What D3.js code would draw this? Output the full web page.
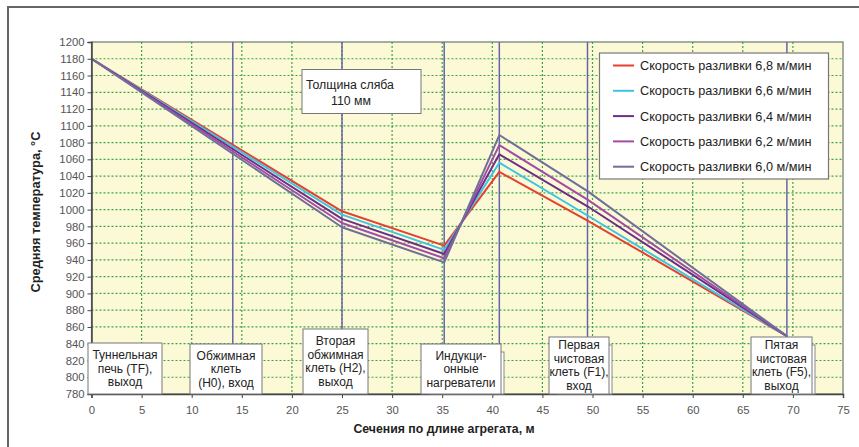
<!DOCTYPE html>
<html><head><meta charset="utf-8">
<script src="https://cdn.jsdelivr.net/npm/d3@7"></script>
<style>
html,body{margin:0;padding:0;background:#fff;}
svg{display:block;font-family:"Liberation Sans",Arial,sans-serif;}
</style></head>
<body><svg id="c" width="859" height="447"></svg>
<script>
// ---- data ----
const sectionsX = [0, 25, 35.2, 40.7, 49.5, 69.4];
const seriesNames = [
  "Скорость разливки 6,8 м/мин",
  "Скорость разливки 6,6 м/мин",
  "Скорость разливки 6,4 м/мин",
  "Скорость разливки 6,2 м/мин",
  "Скорость разливки 6,0 м/мин"
];
const temp68 = [1180, 998, 957, 1045, 987, 849];
const temp66 = [1180, 994, 952, 1056, 993, 849];
const temp64 = [1180, 989, 947, 1066, 1004, 849];
const temp62 = [1180, 984, 942, 1077, 1012, 849];
const temp60 = [1180, 979, 937, 1089, 1022, 849];
const markerX = [14.1, 25, 35.2, 40.7, 49.5, 69.4];
const xTicks = [0,5,10,15,20,25,30,35,40,45,50,55,60,65,70,75];
const yTicks = [780,800,820,840,860,880,900,920,940,960,980,1000,1020,1040,1060,1080,1100,1120,1140,1160,1180,1200];
const labelTexts = [
  ["Туннельная","печь (TF),","выход"],
  ["Обжимная","клеть","(H0), вход"],
  ["Вторая","обжимная","клеть (H2),","выход"],
  ["Индукци-","онные","нагреватели"],
  ["Первая","чистовая","клеть (F1),","вход"],
  ["Пятая","чистовая","клеть (F5),","выход"]
];
const noteText = ["Толщина сляба", "110 мм"];
const xTitle = "Сечения по длине агрегата, м";
const yTitle = "Средняя температура, °C";

// ---- styles / layout ----
const colors = ["#e4412f", "#3fc3e3", "#6d2d8a", "#a24ca6", "#6f6f98"];
const allSeries = [temp68, temp66, temp64, temp62, temp60];

const svg = d3.select("#c");
const x = d3.scaleLinear().domain([0, 75]).range([91.5, 843]);
const y = d3.scaleLinear().domain([780, 1200]).range([394, 42]);

// outer frame
svg.append("rect").attr("x", 8).attr("y", 7).attr("width", 870).attr("height", 470)
  .attr("fill", "none").attr("stroke", "#666").attr("stroke-width", 2);

// plot background
svg.append("rect").attr("x", x(0)).attr("y", y(1200))
  .attr("width", x(75) - x(0)).attr("height", y(780) - y(1200))
  .attr("fill", "#fcfad6");

// grid
const grid = svg.append("g");
grid.selectAll("line.gx").data(xTicks.slice(1, -1)).join("line")
  .attr("x1", d => x(d)).attr("x2", d => x(d))
  .attr("y1", y(1200)).attr("y2", y(780))
  .attr("stroke", "#3fa24a").attr("stroke-width", 1.2).attr("stroke-dasharray", "2,2");
grid.selectAll("line.gy").data(yTicks.slice(1, -1)).join("line")
  .attr("x1", x(0)).attr("x2", x(75))
  .attr("y1", d => y(d)).attr("y2", d => y(d))
  .attr("stroke", "#3fa24a").attr("stroke-width", 1.2).attr("stroke-dasharray", "2,2");

// plot border (top/right)
svg.append("rect").attr("x", x(0)).attr("y", y(1200))
  .attr("width", x(75) - x(0)).attr("height", y(780) - y(1200))
  .attr("fill", "none").attr("stroke", "#6a7a6a").attr("stroke-width", 1.2);

// section marker lines
svg.append("g").selectAll("line").data(markerX).join("line")
  .attr("x1", d => x(d)).attr("x2", d => x(d))
  .attr("y1", y(1200)).attr("y2", y(780))
  .attr("stroke", "#6565a8").attr("stroke-width", 1.5);

// series lines
const line = d3.line().x((d, i) => x(sectionsX[i])).y(d => y(d));
svg.append("g").selectAll("path").data(allSeries).join("path")
  .attr("d", d => line(d)).attr("fill", "none")
  .attr("stroke", (d, i) => colors[i]).attr("stroke-width", 2)
  .attr("stroke-linejoin", "round");

// axes
const yAxis = svg.append("g").attr("transform", `translate(${x(0)},0)`)
  .call(d3.axisLeft(y).tickValues(yTicks).tickSize(4).tickPadding(3).tickFormat(d3.format("d")));
const xAxis = svg.append("g").attr("transform", `translate(0,${y(780)})`)
  .call(d3.axisBottom(x).tickValues(xTicks).tickSize(4).tickPadding(8).tickFormat(d3.format("d")));
[yAxis, xAxis].forEach(a => {
  a.select(".domain").attr("stroke", "#444").attr("stroke-width", 1.5);
  a.selectAll(".tick line").attr("stroke", "#444");
  a.selectAll(".tick text").attr("fill", "#555").attr("font-size", 11.3)
    .attr("font-family", "'Liberation Sans', Arial, sans-serif");
});

// axis titles
svg.append("text").attr("x", 444).attr("y", 433).attr("text-anchor", "middle")
  .attr("font-weight", "bold").attr("font-size", 12.3).attr("fill", "#222").text(xTitle);
svg.append("text").attr("transform", "translate(40,212) rotate(-90)").attr("text-anchor", "middle")
  .attr("font-weight", "bold").attr("font-size", 12.8).attr("fill", "#222").text(yTitle);

// label boxes (layout: pixel boxes)
const labelBoxes = [
  {x: 88, y: 343, w: 74, h: 51, shadow: false},
  {x: 190, y: 344, w: 72, h: 50, shadow: false},
  {x: 303, y: 329, w: 65, h: 65, shadow: false},
  {x: 421, y: 344, w: 80, h: 50, shadow: true},
  {x: 549, y: 337, w: 60, h: 57, shadow: true},
  {x: 751, y: 337, w: 61, h: 57, shadow: true}
];
const lb = svg.append("g");
labelBoxes.forEach((b, i) => {
  if (b.shadow) {
    lb.append("rect").attr("x", b.x + 9).attr("y", b.y + 8).attr("width", b.w - 6).attr("height", b.h - 8)
      .attr("fill", "#fff").attr("stroke", "#888").attr("stroke-width", 1);
  }
  lb.append("rect").attr("x", b.x).attr("y", b.y).attr("width", b.w).attr("height", b.h)
    .attr("fill", "#fff").attr("stroke", "#777").attr("stroke-width", 1);
  const lines = labelTexts[i];
  const lh = 13.5;
  const y0 = b.y + b.h / 2 - (lines.length - 1) * lh / 2 + 4;
  lines.forEach((t, k) => {
    lb.append("text").attr("x", b.x + b.w / 2).attr("y", y0 + k * lh)
      .attr("text-anchor", "middle").attr("font-size", 12).attr("fill", "#222").text(t);
  });
});

// note box
svg.append("rect").attr("x", 302).attr("y", 69.5).attr("width", 119).attr("height", 44)
  .attr("fill", "#fff").attr("stroke", "#777");
svg.append("text").attr("x", 306).attr("y", 89).attr("font-size", 12.3).attr("fill", "#222").text(noteText[0]);
svg.append("text").attr("x", 351).attr("y", 105).attr("text-anchor", "middle").attr("font-size", 12.3).attr("fill", "#222").text(noteText[1]);

// legend
const lg = svg.append("g");
lg.append("rect").attr("x", 599.5).attr("y", 53).attr("width", 229).attr("height", 126)
  .attr("fill", "#fff").attr("stroke", "#777").attr("stroke-width", 1.2);
seriesNames.forEach((n, i) => {
  const yy = 65.5 + i * 25.3;
  lg.append("line").attr("x1", 613).attr("x2", 634).attr("y1", yy).attr("y2", yy)
    .attr("stroke", colors[i]).attr("stroke-width", 2);
  lg.append("text").attr("x", 640).attr("y", yy + 4.5).attr("font-size", 12.7).attr("fill", "#222").text(n);
});
</script></body></html>
